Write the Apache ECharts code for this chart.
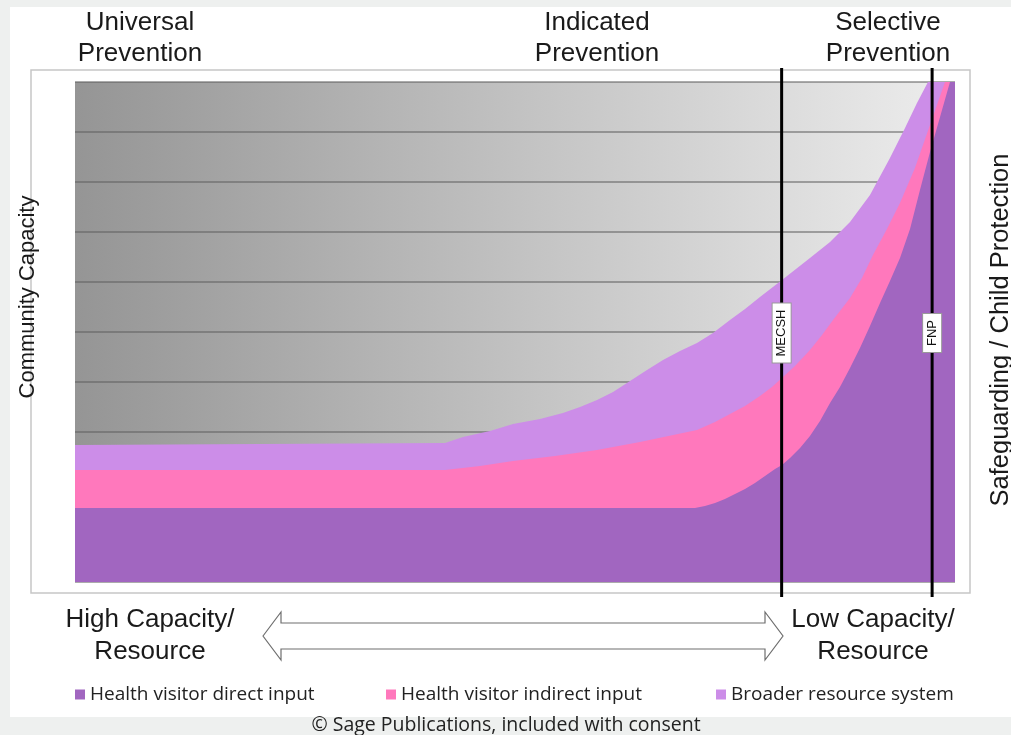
<!DOCTYPE html>
<html><head><meta charset="utf-8">
<script src="https://cdn.jsdelivr.net/npm/echarts@6/dist/echarts.min.js"></script>
<style>html,body{margin:0;padding:0;background:#fff}#c{width:1011px;height:735px}</style>
</head><body><div id="c"></div>
<script>
// ---- data (x: 0 = high capacity ... 100 = low capacity; y: 0..10 relative input) ----
const seriesNames = ['Health visitor direct input', 'Health visitor indirect input', 'Broader resource system'];

const directX = [0, 70.45, 71.59, 72.73, 73.86, 75.0, 76.14, 77.27, 78.41, 79.55, 80.34, 81.25, 82.39, 83.52, 84.66, 85.80, 86.93, 88.07, 89.20, 90.34, 91.48, 92.61, 93.75, 94.89, 96.02, 97.16, 98.30, 99.43, 100];
const directY = [1.48, 1.48, 1.52, 1.58, 1.66, 1.76, 1.86, 1.98, 2.12, 2.26, 2.34, 2.48, 2.68, 2.92, 3.22, 3.58, 3.90, 4.28, 4.68, 5.12, 5.58, 6.02, 6.48, 7.06, 7.84, 8.60, 9.30, 10, 10];

const indirectX = [0, 42.05, 46.02, 49.77, 54.55, 59.32, 64.20, 70.68, 72.73, 74.43, 76.14, 77.84, 79.20, 80.45, 81.82, 83.52, 84.89, 86.14, 88.07, 89.43, 90.68, 92.27, 93.75, 95.45, 97.16, 98.86, 100];
const indirectY = [2.24, 2.24, 2.32, 2.42, 2.52, 2.64, 2.80, 3.04, 3.20, 3.36, 3.52, 3.72, 3.90, 4.10, 4.32, 4.64, 4.94, 5.24, 5.68, 6.08, 6.54, 7.06, 7.58, 8.28, 9.14, 10, 10];

const broaderX = [0, 42.05, 44.09, 47.16, 49.77, 52.84, 55.45, 57.39, 59.32, 61.14, 63.07, 65.0, 66.82, 68.75, 70.68, 72.5, 74.43, 76.14, 77.84, 80.34, 83.52, 85.80, 88.07, 90.34, 92.61, 94.32, 95.68, 96.93, 100];
const broaderY = [2.74, 2.78, 2.90, 3.02, 3.16, 3.26, 3.38, 3.50, 3.64, 3.80, 4.02, 4.24, 4.44, 4.62, 4.78, 4.98, 5.24, 5.46, 5.70, 6.04, 6.48, 6.80, 7.20, 7.74, 8.48, 9.08, 9.58, 10, 10];

const programmes = ['MECSH', 'FNP'];
const programmeX = [80.3, 97.4];

const headerTexts = ['Universal\nPrevention', 'Indicated\nPrevention', 'Selective\nPrevention'];
const bottomTexts = ['High Capacity/\nResource', 'Low Capacity/\nResource'];
const yAxisTitle = 'Community Capacity';
const rightTitle = 'Safeguarding / Child Protection';
const footer = '\u00A9 Sage Publications, included with consent';

const colors = ['#a166c0', '#ff78bc', '#cc8de8'];

function pairs(xs, ys) { return xs.map((x, i) => [x, ys[i]]); }

const chart = echarts.init(document.getElementById('c'), null, {renderer: 'canvas'});
const legendFont = {fontFamily: 'Open Sans', fontSize: 19, color: '#222'};
const legendLefts = [70, 381, 711];

chart.setOption({
  animation: false,
  backgroundColor: '#ffffff',
  grid: {
    left: 75, right: 56, top: 82, bottom: 153, show: true, borderWidth: 0,
    backgroundColor: {type: 'linear', x: 0, y: 0, x2: 1, y2: 0,
      colorStops: [{offset: 0, color: '#959595'}, {offset: 0.55, color: '#c6c6c6'}, {offset: 1, color: '#ededed'}]}
  },
  xAxis: {type: 'value', min: 0, max: 100, show: true,
    axisLine: {show: false}, axisTick: {show: false}, axisLabel: {show: false}, splitLine: {show: false}},
  yAxis: {type: 'value', min: 0, max: 10, interval: 1,
    axisLine: {show: false}, axisTick: {show: false}, axisLabel: {show: false},
    splitLine: {show: true, lineStyle: {color: 'rgba(95,95,95,0.7)', width: 1.5}}},
  legend: seriesNames.map((n, i) => ({
    data: [n], left: legendLefts[i], top: 680, icon: 'rect', itemWidth: 10, itemHeight: 10,
    itemGap: 5, textStyle: legendFont, selectedMode: false
  })),
  series: [
    {name: seriesNames[2], type: 'line', data: pairs(broaderX, broaderY), color: colors[2]},
    {name: seriesNames[1], type: 'line', data: pairs(indirectX, indirectY), color: colors[1]},
    {name: seriesNames[0], type: 'line', data: pairs(directX, directY), color: colors[0]}
  ].map(s => Object.assign(s, {
    smooth: false, showSymbol: false, symbol: 'none',
    lineStyle: {width: 0}, areaStyle: {color: s.color, opacity: 1}
  }))
});

// ---- decorations positioned through the chart's own coordinate system ----
const toPx = (x, y) => chart.convertToPixel({gridIndex: 0}, [x, y]);
const txt = (text, x, y, size, extra) => ({
  type: 'text', x: x, y: y, z: 50,
  style: Object.assign({text: text, fontFamily: 'Arial, Liberation Sans', fontSize: size, fill: '#1a1a1a',
    align: 'center', verticalAlign: 'middle', lineHeight: 31}, (extra || {}))
});

const g = [];
// grey frame strips
g.push({type: 'rect', shape: {x: 0, y: 0, width: 1011, height: 7}, style: {fill: '#eef0ef'}, z: 1});
g.push({type: 'rect', shape: {x: 0, y: 0, width: 10, height: 735}, style: {fill: '#eef0ef'}, z: 1});
g.push({type: 'rect', shape: {x: 0, y: 717, width: 1011, height: 18}, style: {fill: '#eef0ef'}, z: 1});
// outer light box
g.push({type: 'rect', shape: {x: 31, y: 70, width: 939, height: 523},
  style: {fill: 'none', stroke: '#c6c6c6', lineWidth: 1.5}, z: -5});

const headerX = [140, 597, 888];
headerTexts.forEach((t, i) => g.push(txt(t, headerX[i], 38, 26)));
const bottomX = [150, 873];
bottomTexts.forEach((t, i) => g.push(txt(t, bottomX[i], 636, 26, {lineHeight: 32})));

// axis titles
g.push(Object.assign(txt(yAxisTitle, 28, 297, 22), {rotation: Math.PI / 2}));
g.push(Object.assign(txt(rightTitle, 1001, 330, 25.5), {rotation: Math.PI / 2}));

// double arrow between the capacity labels
g.push({type: 'polygon', z: 40, shape: {points: [
  [263, 636], [281, 612], [281, 623], [765, 623], [765, 612], [783, 636],
  [765, 660], [765, 649], [281, 649], [281, 660]]},
  style: {fill: '#ffffff', stroke: '#6f6f6f', lineWidth: 1.2}});

// programme marker lines
programmes.forEach((name, i) => {
  const top = toPx(programmeX[i], 10.28);
  const bot = toPx(programmeX[i], -0.3);
  g.push({type: 'line', z: 60, shape: {x1: top[0], y1: top[1], x2: bot[0], y2: bot[1]},
    style: {stroke: '#000', lineWidth: 3}});
  const mid = toPx(programmeX[i], 4.98);
  g.push({type: 'text', z: 70, x: mid[0], y: mid[1], rotation: Math.PI / 2,
    style: {text: name, fontFamily: 'Arial, Liberation Sans', fontSize: 13, fill: '#111',
      align: 'center', verticalAlign: 'middle', backgroundColor: '#fff',
      borderColor: '#9a9a9a', borderWidth: 1, padding: [3, 6, 2, 6]}});
});

// footer
g.push({type: 'text', z: 50, x: 506, y: 725,
  style: {text: footer, fontFamily: 'Open Sans', fontSize: 19.5, fill: '#222', align: 'center', verticalAlign: 'middle'}});

chart.setOption({graphic: {elements: g}});
</script>
</body></html>
